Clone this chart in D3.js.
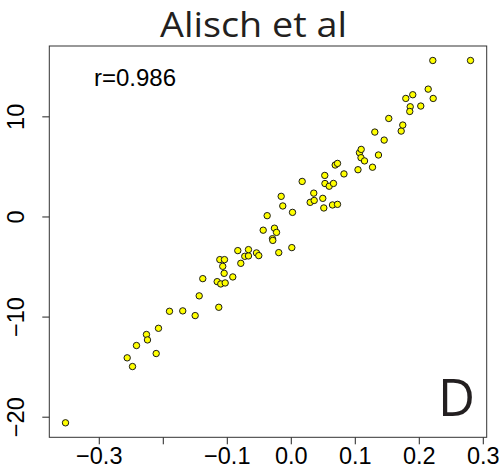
<!DOCTYPE html>
<html>
<head>
<meta charset="utf-8">
<script src="https://cdn.jsdelivr.net/npm/d3@7"></script>
<style>
  html, body { margin: 0; padding: 0; background: #fff; }
  svg { display: block; }
</style>
</head>
<body>
<svg id="chart" width="499" height="469"></svg>
<script>
// Scatter of methylation effect (x) against test statistic (y)
const chartTitle = "Alisch et al";
const corrLabel = "r=0.986";
const panelLetter = "D";

const xVals = [
  -0.352, -0.2556, -0.2473, -0.2411, -0.2255, -0.2239, -0.2103, -0.2067, -0.1895, -0.1688,
  -0.1494, -0.1125, -0.1431, -0.1375, -0.1150, -0.1094, -0.1025, -0.1041, -0.1063, -0.1109,
  -0.1036, -0.0906, -0.0828, -0.0781, -0.0719, -0.0661, -0.0661, -0.0536, -0.0500, -0.0431,
  -0.0286, -0.0281, -0.0255, -0.0223, -0.0188, 0.0016, -0.0369, -0.0150, -0.0125, 0.0027,
  0.0178, 0.0303, 0.0366, 0.0359, 0.0500, 0.0516, 0.0531, 0.0534, 0.0600, 0.0667,
  0.0652, 0.0730, 0.0694, 0.0730, 0.0831, 0.1050, 0.1073, 0.1100, 0.1097, 0.1152,
  0.1277, 0.1370, 0.1313, 0.1459, 0.1531, 0.1725, 0.1750, 0.1797, 0.1906, 0.1866,
  0.1859, 0.2031, 0.2147, 0.2225, 0.2219, 0.2808
];
const yVals = [
  -20.61, -14.12, -14.99, -12.89, -11.79, -12.33, -13.69, -11.17, -9.47, -9.43,
  -9.90, -9.07, -7.93, -6.21, -6.51, -6.74, -6.64, -5.68, -4.98, -4.31,
  -4.31, -6.04, -3.41, -4.68, -3.98, -3.94, -3.31, -3.64, -3.91, -1.37,
  -2.22, -2.39, -1.17, -1.59, -3.61, -3.11, 0.08, 2.01, 1.05, 0.41,
  3.50, 1.41, 1.60, 2.33, 1.81, 0.85, 4.10, 3.29, 3.02, 3.30,
  1.15, 1.21, 5.14, 5.30, 4.25, 4.67, 6.37, 6.70, 5.87, 5.55,
  4.92, 6.14, 8.43, 7.63, 9.79, 8.53, 9.13, 11.79, 12.16, 10.96,
  10.49, 11.03, 12.72, 11.79, 15.58, 15.58
];

const xTicks = [-0.3, -0.2, -0.1, 0.0, 0.1, 0.2, 0.3];
const xTickLabels = ["\u22120.3", "", "\u22120.1", "0.0", "0.1", "0.2", "0.3"];
const yTicks = [-20, -10, 0, 10];
const yTickLabels = ["\u221220", "\u221210", "0", "10"];

const svg = d3.select("#chart");
const box = { left: 49.3, right: 486.7, top: 46, bottom: 437.3 };

// Axis ranges padded 4% beyond the data, as in base R plots
function padded(vals) {
  const [lo, hi] = d3.extent(vals);
  const p = (hi - lo) * 0.04;
  return [lo - p, hi + p];
}
const x = d3.scaleLinear().domain(padded(xVals)).range([box.left, box.right]);
const y = d3.scaleLinear().domain(padded(yVals)).range([box.bottom, box.top]);

const labelFont = "'Liberation Sans', Arial, Helvetica, sans-serif";

// x axis
const xAxis = d3.axisBottom(x)
  .tickValues(xTicks)
  .tickSize(7)
  .tickPadding(4)
  .tickFormat((d, i) => xTickLabels[i]);
const gx = svg.append("g")
  .attr("transform", `translate(0,${box.bottom})`)
  .call(xAxis);
gx.select(".domain").remove();
gx.selectAll(".tick line").attr("stroke", "#222");
gx.selectAll(".tick text")
  .attr("font-family", labelFont)
  .attr("font-size", 23.5)
  .attr("fill", "#000")
  .attr("dy", null)
  .attr("y", 26.5);

// y axis, labels rotated to run upwards
const yAxis = d3.axisLeft(y)
  .tickValues(yTicks)
  .tickSize(7)
  .tickFormat((d, i) => yTickLabels[i]);
const gy = svg.append("g")
  .attr("transform", `translate(${box.left},0)`)
  .call(yAxis);
gy.select(".domain").remove();
gy.selectAll(".tick line").attr("stroke", "#222");
gy.selectAll(".tick text")
  .attr("font-family", labelFont)
  .attr("font-size", 23.5)
  .attr("fill", "#000")
  .attr("x", null)
  .attr("dy", null)
  .attr("text-anchor", "middle")
  .attr("transform", "translate(-25,0) rotate(-90)");

// plot frame
svg.append("rect")
  .attr("x", box.left)
  .attr("y", box.top)
  .attr("width", box.right - box.left)
  .attr("height", box.bottom - box.top)
  .attr("fill", "none")
  .attr("stroke", "#333")
  .attr("stroke-width", 1);

// points
svg.append("g")
  .selectAll("circle")
  .data(d3.range(xVals.length))
  .join("circle")
  .attr("cx", i => x(xVals[i]))
  .attr("cy", i => y(yVals[i]))
  .attr("r", 3.2)
  .attr("fill", "#ffff00")
  .attr("stroke", "#1a1a1a")
  .attr("stroke-width", 1);

// correlation annotation
svg.append("text")
  .attr("x", 94)
  .attr("y", 86)
  .attr("font-family", labelFont)
  .attr("font-size", 24)
  .attr("fill", "#000")
  .text(corrLabel);

// title
svg.append("text")
  .attr("x", 253.5)
  .attr("y", 37)
  .attr("text-anchor", "middle")
  .attr("font-family", "'Open Sans', 'Noto Sans', sans-serif")
  .attr("font-size", 35)
  .attr("fill", "#231f20")
  .attr("textLength", 187)
  .attr("lengthAdjust", "spacingAndGlyphs")
  .text(chartTitle);

// panel letter
svg.append("text")
  .attr("x", 475)
  .attr("y", 416)
  .attr("text-anchor", "end")
  .attr("font-family", "'Open Sans', 'Noto Sans', sans-serif")
  .attr("font-size", 51)
  .attr("fill", "#231f20")
  .text(panelLetter);
</script>
</body>
</html>
